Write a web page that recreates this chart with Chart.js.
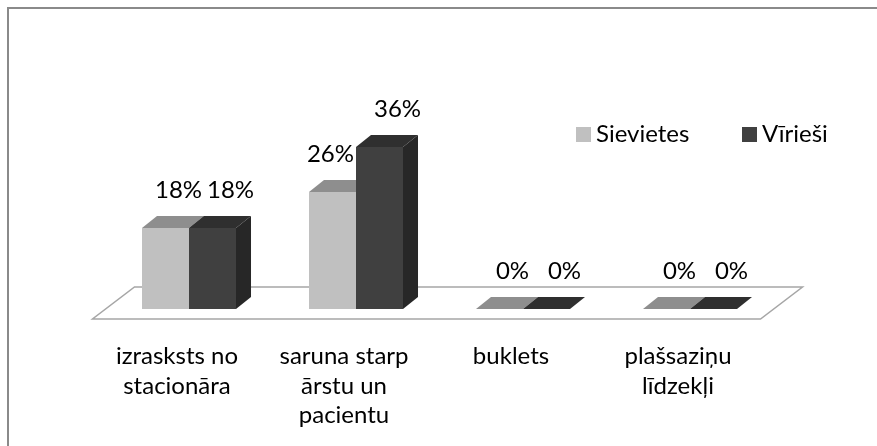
<!DOCTYPE html>
<html>
<head>
<meta charset="utf-8">
<script src="https://cdn.jsdelivr.net/npm/chart.js@4/dist/chart.umd.min.js"></script>
<style>
  html, body { margin: 0; padding: 0; background: #fff; }
  #wrap { width: 877px; height: 446px; }
</style>
</head>
<body>
<div id="wrap"><canvas id="chart" width="877" height="446"></canvas></div>
<script>
// Data
const categories = [
  ['izrasksts no', 'stacionāra'],
  ['saruna starp', 'ārstu un', 'pacientu'],
  ['buklets'],
  ['plašsaziņu', 'līdzekļi'],
];
const seriesNames = ['Sievietes', 'Vīrieši'];
const sievietes = [18, 26, 0, 0];
const virieshi = [18, 36, 0, 0];

const FONT = 'Lato, "Open Sans", sans-serif';
const FACES = [
  { front: '#c0c0c0', top: '#8e8e8e', side: '#a2a2a2' },
  { front: '#404040', top: '#2f2f2f', side: '#272727' },
];
const DX = 15, DY = -12; // bar depth

function pathPoly(ctx, pts) {
  ctx.beginPath();
  ctx.moveTo(pts[0][0], pts[0][1]);
  for (let i = 1; i < pts.length; i++) ctx.lineTo(pts[i][0], pts[i][1]);
  ctx.closePath();
}

const excel3d = {
  id: 'excel3d',
  beforeDraw(chart) {
    const ctx = chart.ctx;
    ctx.save();
    ctx.fillStyle = '#fff';
    ctx.fillRect(0, 0, chart.width, chart.height);
    ctx.strokeStyle = '#8a8a8a';
    ctx.lineWidth = 2;
    ctx.strokeRect(8, 8, chart.width + 20, chart.height + 20);
    ctx.restore();
  },
  beforeDatasetsDraw(chart) {
    const ctx = chart.ctx;
    const { left, right, bottom } = chart.chartArea;
    ctx.save();
    // floor
    const fl = left - 13, fr = right - 13, fy = bottom + 10;
    pathPoly(ctx, [[fl, fy], [fr, fy], [fr + 42, fy - 32], [fl + 42, fy - 32]]);
    ctx.fillStyle = '#fff';
    ctx.fill();
    ctx.strokeStyle = '#a6a6a6';
    ctx.lineWidth = 1.5;
    ctx.stroke();
    // side + top faces of each bar
    const n = categories.length;
    for (let i = 0; i < n; i++) {
      chart.data.datasets.forEach((ds, d) => {
        const bar = chart.getDatasetMeta(d).data[i];
        const half = bar.width / 2;
        const x0 = bar.x - half, x1 = bar.x + half;
        const y = bar.y, b = bar.base;
        ctx.fillStyle = FACES[d].side;
        pathPoly(ctx, [[x1, y], [x1 + DX, y + DY], [x1 + DX, b + DY], [x1, b]]);
        ctx.fill();
        ctx.fillStyle = FACES[d].top;
        pathPoly(ctx, [[x0, y], [x1, y], [x1 + DX, y + DY], [x0 + DX, y + DY]]);
        ctx.fill();
      });
    }
    ctx.restore();
  },
  afterDatasetsDraw(chart) {
    const ctx = chart.ctx;
    ctx.save();
    ctx.fillStyle = '#000';
    ctx.font = '24px ' + FONT;
    ctx.textAlign = 'center';
    ctx.textBaseline = 'alphabetic';
    // value labels (nudged apart like Excel does when they collide)
    const nDs = chart.data.datasets.length;
    chart.data.datasets.forEach((ds, d) => {
      chart.getDatasetMeta(d).data.forEach((bar, i) => {
        const txt = ds.data[i] + '%';
        const w = ctx.measureText(txt).width;
        let x = bar.x + 13 + (d === nDs - 1 ? 5 : 0);
        const y = bar.y - 30;
        if (d < nDs - 1) {
          const next = chart.getDatasetMeta(d + 1).data[i];
          if (next.y < y) x = Math.min(x, next.x - next.width / 2 - w / 2 - 2);
        }
        ctx.fillText(txt, x, y);
      });
    });
    // category labels
    const xs = chart.scales.x;
    const yBase = chart.chartArea.bottom + 55;
    categories.forEach((lines, i) => {
      const cx = xs.getPixelForValue(i) - 12;
      lines.forEach((t, k) => ctx.fillText(t, cx, yBase + k * 29.5));
    });
    // legend
    ctx.textAlign = 'left';
    const legendX = [576, 742];
    seriesNames.forEach((name, d) => {
      ctx.fillStyle = FACES[d].front;
      ctx.fillRect(legendX[d], 127, 15, 15);
      ctx.fillStyle = '#000';
      ctx.fillText(name, legendX[d] + 20, 142);
    });
    ctx.restore();
  },
};

new Chart(document.getElementById('chart'), {
  type: 'bar',
  data: {
    labels: categories,
    datasets: [
      { label: seriesNames[0], data: sievietes, backgroundColor: FACES[0].front },
      { label: seriesNames[1], data: virieshi, backgroundColor: FACES[1].front },
    ],
  },
  options: {
    responsive: false,
    animation: false,
    devicePixelRatio: 1,
    layout: { padding: { left: 105.5, right: 103.5, top: 129, bottom: 137 } },
    datasets: { bar: { barPercentage: 1, categoryPercentage: 0.563, borderWidth: 0 } },
    plugins: { legend: { display: false }, tooltip: { enabled: false } },
    scales: {
      x: { display: false },
      y: { display: false, min: 0, max: 40 },
    },
  },
  plugins: [excel3d],
});
</script>
</body>
</html>
